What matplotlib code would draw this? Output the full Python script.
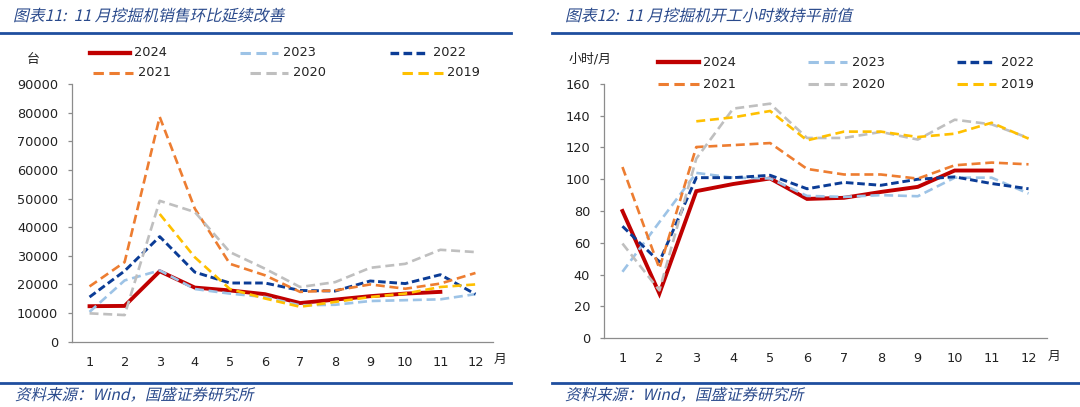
import matplotlib.pyplot as plt
from matplotlib.lines import Line2D
from matplotlib.patches import PathPatch
from matplotlib.textpath import TextPath
from matplotlib.font_manager import FontProperties
from matplotlib import transforms

plt.rcParams['font.family'] = ['DejaVu Sans', 'Noto Sans CJK SC']

W, H = 1080, 407
months = list(range(1, 13))
years = ['2024', '2023', '2022', '2021', '2020', '2019']

# excavator sales (units)
sales_2024 = [12400, 12500, 24600, 18900, 17900, 16600, 13500, 14700, 15900, 16800, 17400, None]
sales_2023 = [10400, 21400, 24900, 18400, 16800, 15600, 12700, 12900, 14200, 14500, 14800, 16600]
sales_2022 = [15600, 24700, 36700, 24300, 20500, 20500, 17900, 17700, 21200, 20300, 23400, 16600]
sales_2021 = [19300, 27800, 78500, 46500, 27200, 23200, 17400, 17900, 20000, 18500, 20300, 24000]
sales_2020 = [9900, 9300, 49200, 45300, 31300, 25500, 19100, 20800, 25800, 27200, 32100, 31300]
sales_2019 = [None, None, 44600, 29500, 18400, 15100, 12200, 13900, 15600, 16800, 19100, 20000]

# working hours per month
hours_2024 = [80, 28, 92.5, 97, 100.5, 87.6, 88.3, 92, 95.2, 105.5, 105.5, None]
hours_2023 = [41.7, 73, 104, 101, 100.5, 89.5, 88.9, 90, 89.3, 101, 101, 91]
hours_2022 = [70.4, 48, 101, 101, 102.5, 94, 98, 96.2, 100, 101.5, 97.3, 94]
hours_2021 = [107.7, 43.8, 120.3, 121.5, 122.8, 106.5, 103, 103, 100.4, 108.8, 110.5, 109.4]
hours_2020 = [59.5, 30, 113, 144.5, 147.6, 126, 126, 129.8, 125, 137.5, 134.6, 126]
hours_2019 = [None, None, 136.5, 139, 143, 124.5, 130, 130, 126.6, 128.7, 135.6, 125.6]

sales = dict(zip(years, [sales_2024, sales_2023, sales_2022, sales_2021, sales_2020, sales_2019]))
hours = dict(zip(years, [hours_2024, hours_2023, hours_2022, hours_2021, hours_2020, hours_2019]))

styles = {
    '2024': dict(color='#C00000', lw=2.8, dashes=None),
    '2023': dict(color='#9DC3E6', lw=1.9, dashes=(3.4, 1.8)),
    '2022': dict(color='#0B3C96', lw=2.1, dashes=(2.6, 1.3)),
    '2021': dict(color='#ED7D31', lw=1.9, dashes=(3.4, 1.8)),
    '2020': dict(color='#BFBFBF', lw=1.9, dashes=(3.4, 1.8)),
    '2019': dict(color='#FFC000', lw=1.9, dashes=(3.4, 1.8)),
}

BLUE = '#1F4E9F'
TXT_BLUE = '#2A4A8C'
FS = 9.3


def fx(x):
    return x / W


def fy(y):
    return 1 - y / H


def draw(ax, key, vals, z):
    st = styles[key]
    xs = [m for m, v in zip(months, vals) if v is not None]
    ys = [v for v in vals if v is not None]
    line, = ax.plot(xs, ys, color=st['color'], lw=st['lw'], zorder=z,
                    solid_joinstyle='miter')
    if st['dashes']:
        line.set_dashes(st['dashes'])


def legend_item(fig, key, x0, x1, y, tx):
    st = styles[key]
    ln = Line2D([fx(x0), fx(x1)], [fy(y), fy(y)], transform=fig.transFigure,
                color=st['color'], lw=st['lw'] + 0.3)
    if st['dashes']:
        ln.set_dashes(st['dashes'])
    fig.add_artist(ln)
    fig.text(fx(tx), fy(y), key, fontsize=FS, va='center', ha='left', color='#222222')


def slanted(fig, s, x, y, size, color):
    tp = TextPath((0, 0), s, size=size, prop=FontProperties(family='Noto Sans CJK SC'))
    tr = transforms.Affine2D().skew_deg(13, 0).translate(x, H - y)
    fig.add_artist(PathPatch(tp, transform=tr, facecolor=color, edgecolor='none'))


def style_axes(ax, ylim, yticks):
    ax.set_xlim(0.5, 12.5)
    ax.set_ylim(*ylim)
    ax.set_yticks(yticks)
    ax.set_xticks(months)
    ax.set_xticklabels([str(m) for m in months])
    for s in ['top', 'right']:
        ax.spines[s].set_visible(False)
    for s in ['left', 'bottom']:
        ax.spines[s].set_color('#8C8C8C')
        ax.spines[s].set_linewidth(0.9)
    ax.tick_params(axis='y', length=3, width=0.9, color='#8C8C8C', pad=7,
                   labelsize=FS, labelcolor='#222222')
    ax.tick_params(axis='x', length=0, pad=10, labelsize=FS, labelcolor='#222222')


fig = plt.figure(figsize=(W / 100, H / 100), dpi=100)

# left chart: sales (series drawn in order, 2024 at the bottom)
ax1 = fig.add_axes([fx(72), fy(341.7), fx(493) - fx(72), fy(84) - fy(341.7)])
for i, k in enumerate(years):
    draw(ax1, k, sales[k], 3 + i)
style_axes(ax1, (0, 90000), range(0, 90001, 10000))

# right chart: working hours
ax2 = fig.add_axes([fx(604), fy(338), fx(1047) - fx(604), fy(84) - fy(338)])
for i, k in enumerate(years):
    draw(ax2, k, hours[k], 3 + i)
style_axes(ax2, (0, 160), range(0, 161, 20))

# unit labels
fig.text(fx(33), fy(59), '台', fontsize=FS, ha='center', va='center', color='#222222')
fig.text(fx(500), fy(359), '月', fontsize=FS, ha='center', va='center', color='#222222')
fig.text(fx(569), fy(59), '小时/月', fontsize=FS, ha='left', va='center', color='#222222')
fig.text(fx(1054), fy(356), '月', fontsize=FS, ha='center', va='center', color='#222222')

# legends
legend_item(fig, '2024', 90, 130, 53, 134)
legend_item(fig, '2023', 240, 278, 53, 283)
legend_item(fig, '2022', 390, 428, 53, 433)
legend_item(fig, '2021', 93, 133, 73, 138)
legend_item(fig, '2020', 250, 288, 73, 293)
legend_item(fig, '2019', 402, 443, 73, 447)

legend_item(fig, '2024', 658, 699, 62, 703)
legend_item(fig, '2023', 808, 847, 62, 852)
legend_item(fig, '2022', 957, 996, 62, 1001)
legend_item(fig, '2021', 658, 699, 84, 703)
legend_item(fig, '2020', 808, 847, 84, 852)
legend_item(fig, '2019', 957, 996, 84, 1001)

# header / footer rules
for x0, x1 in [(0, 511), (552, 1080)]:
    for y in [32.5, 383]:
        fig.add_artist(Line2D([fx(x0), fx(x1)], [fy(y), fy(y)], transform=fig.transFigure,
                              color=BLUE, lw=2.0))

slanted(fig, '图表11:  11 月挖掘机销售环比延续改善', 13, 21, 15.8, TXT_BLUE)
slanted(fig, '图表12:  11 月挖掘机开工小时数持平前值', 565, 21, 15.8, TXT_BLUE)
slanted(fig, '资料来源：Wind，国盛证券研究所', 15, 400, 15.5, TXT_BLUE)
slanted(fig, '资料来源：Wind，国盛证券研究所', 565, 400, 15.5, TXT_BLUE)

fig.savefig('out.png', dpi=100)
